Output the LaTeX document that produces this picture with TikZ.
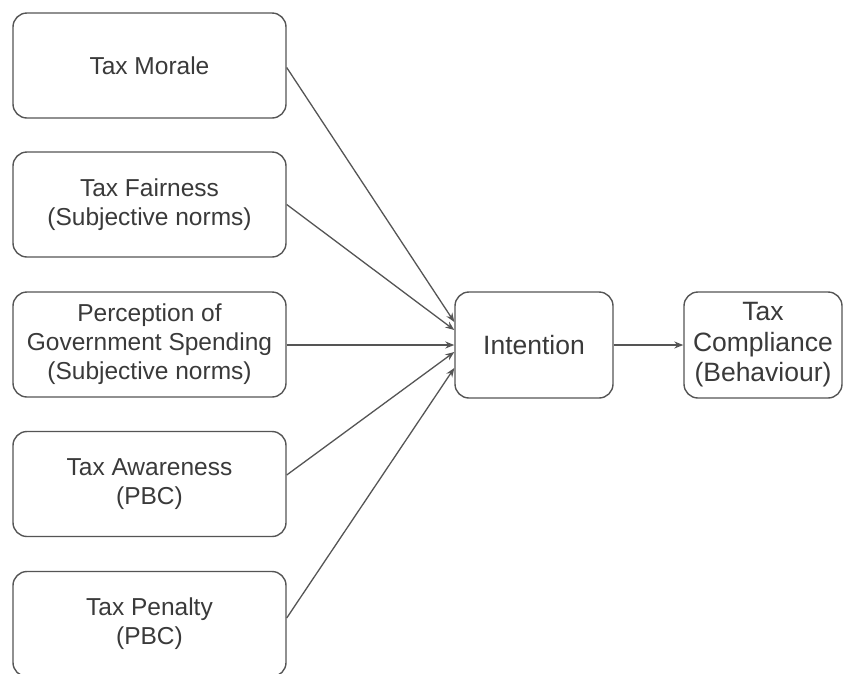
\documentclass[tikz,border=0pt]{standalone}
\usepackage{fontspec}
\setmainfont{Liberation Sans}
\usetikzlibrary{arrows.meta,calc}
\definecolor{edge}{HTML}{555555}
\definecolor{txt}{HTML}{3A3A3A}
\tikzset{
  box/.style={draw=edge, line width=1.4pt, rounded corners=14pt, fill=white,
    text=txt, align=center, inner sep=0pt,
    font=\fontsize{24.5}{29}\selectfont},
  bigbox/.style={box, font=\fontsize{26.5}{30.5}\selectfont},
  conn/.style={draw=edge, line width=1.3pt, -{Stealth[length=9pt,width=7pt]}}
}
\begin{document}
\begin{tikzpicture}[x=1pt,y=-1pt]
\useasboundingbox (0,0) rectangle (843,673);
\fill[white] (0,0) rectangle (843,673);
\begin{scope}
\clip (0,0) rectangle (843,673);
\node[box, minimum width=273pt, minimum height=105pt] (b1) at (149.5,65.5) {Tax Morale};
\node[box, minimum width=273pt, minimum height=105pt] (b2) at (149.5,204.5) {Tax Fairness\\(Subjective norms)};
\node[box, minimum width=273pt, minimum height=105pt] (b3) at (149.5,344.5) {Perception of\\Government Spending\\(Subjective norms)};
\node[box, minimum width=273pt, minimum height=105pt] (b4) at (149.5,484) {Tax Awareness\\(PBC)};
\node[box, minimum width=273pt, minimum height=105pt] (b5) at (149.5,624) {Tax Penalty\\(PBC)};
\node[bigbox, minimum width=158pt, minimum height=106pt] (int) at (534,345) {Intention};
\node[bigbox, minimum width=158pt, minimum height=106pt] (tc) at (763,345) {Tax\\Compliance\\(Behaviour)};
\end{scope}
\draw[conn] ([yshift=-2pt]b1.east) -- ([yshift=23pt]int.west);
\draw[conn] (b2.east) -- ([yshift=15pt]int.west);
\draw[conn] ([yshift=-0.5pt]b3.east) -- ([yshift=0pt]int.west);
\draw[conn] ([yshift=9pt]b4.east) -- ([yshift=-7pt]int.west);
\draw[conn] ([yshift=6pt]b5.east) -- ([yshift=-23pt]int.west);
\draw[conn] (int.east) -- (tc.west);
\end{tikzpicture}
\end{document}
